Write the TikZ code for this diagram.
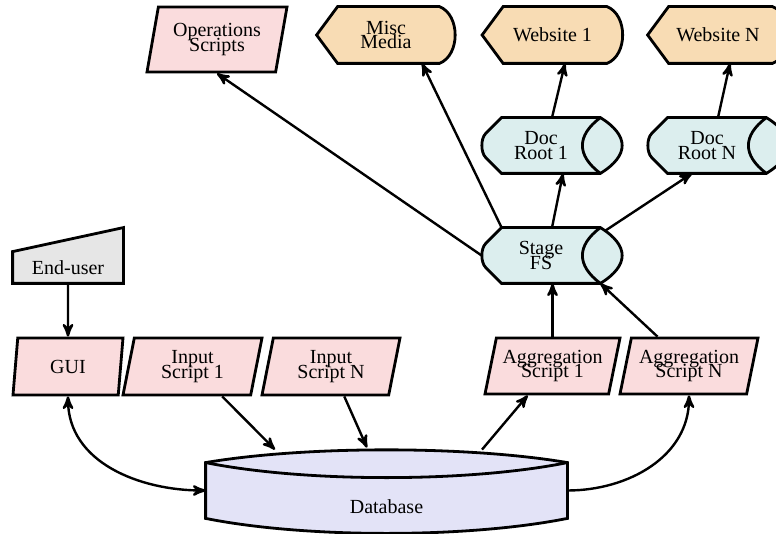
\documentclass[tikz,border=0pt]{standalone}
\usepackage{fontspec}
\setmainfont{Liberation Serif}
\usetikzlibrary{arrows}
\usetikzlibrary{calc}
\usetikzlibrary{shapes.geometric}
\usetikzlibrary{backgrounds}
\definecolor{mpink}{RGB}{250, 220, 221}
\definecolor{morange}{RGB}{248, 220, 180}
\definecolor{mcyan}{RGB}{220, 238, 238}
\definecolor{mlav}{RGB}{227, 227, 247}
\definecolor{mgray}{RGB}{230, 230, 230}
\newcommand{\tightfont}{\fontsize{10}{7.3}\selectfont\setlength{\lineskiplimit}{-20pt}\setlength{\lineskip}{0pt}}
\tikzset{txt/.style = {font=\tightfont, align=center, inner sep=0}}
\tikzset{para/.style = {txt, trapezium, trapezium left angle=70.5, trapezium right angle=109.5,
                        trapezium stretches body, draw, line width=1.4pt, fill=mpink,
                        minimum width=69.5pt, minimum height=28.5pt}}
\tikzset{disp/.style = {txt, minimum width=70pt, minimum height=28pt}}
\tikzset{cyl/.style = {txt, minimum width=59pt, minimum height=27.5pt}}
\tikzset{outline/.style = {draw, line width=1.4pt}}
\tikzset{link/.style = {line width=1.2pt, -stealth'}}

\begin{document}
\begin{tikzpicture}[x=0.5pt, y=-0.5pt]
    \useasboundingbox (0, 0) rectangle (776, 534);

    % top row
    \node [para, minimum width=70pt, minimum height=32.5pt] (ops) at (217, 39.5) {Operations\\Scripts};
    \node [disp, minimum width=69pt] (misc) at (386, 35) {Misc\\Media};
    \node [disp] (web1) at (552.5, 35) {Website 1};
    \node [disp] (webN) at (718, 35) {Website N};

    \node [cyl] (doc1) at (541, 145.5) {Doc\\Root 1};
    \node [cyl] (docN) at (707, 145.5) {Doc\\Root N};
    \node [cyl] (stage) at (541, 255.5) {Stage\\FS};

    \node [txt, minimum width=55pt, minimum height=15.5pt] (user) at (68, 267.5) {End-user};

    % scripts
    \node [para, minimum width=55pt] (gui) at (68, 366.5) {GUI};
    \node [para] (in1) at (192.5, 366.5) {Input\\Script 1};
    \node [para, minimum width=69pt] (inN) at (331, 366.5) {Input\\Script N};
    \node [para, minimum width=67.5pt, minimum height=28pt] (agg1) at (552.5, 366) {Aggregation\\Script 1};
    \node [para, minimum width=69pt, minimum height=28pt] (aggN) at (689, 366) {Aggregation\\Script N};

    \node [txt, minimum width=180.5pt, minimum height=27.5pt, text height=22.5pt, text depth=0pt]
          (db) at (386.5, 490.5) {Database};

    \begin{scope}[on background layer]
      \foreach \n in {misc, web1, webN}
        \draw [outline, fill=morange] (\n.west) -- ([shift={(21,0)}]\n.north west)
              -- ([shift={(-16,0)}]\n.north east)
              .. controls ([shift={(5,8)}]\n.north east) and ([shift={(5,-8)}]\n.south east)
              .. ([shift={(-16,0)}]\n.south east) -- ([shift={(21,0)}]\n.south west) -- cycle;

      \foreach \n in {doc1, docN, stage} {
        \draw [outline, fill=mcyan] ([shift={(20,0)}]\n.north west) -- ([shift={(4,16)}]\n.north west)
              .. controls ([shift={(-1,21)}]\n.north west) and ([shift={(-1,-21)}]\n.south west)
              .. ([shift={(4,-16)}]\n.south west) -- ([shift={(20,0)}]\n.south west) -- (\n.south east)
              .. controls ([shift={(29,-18)}]\n.south east) and ([shift={(29,18)}]\n.north east)
              .. (\n.north east) -- cycle;
        \draw [outline] (\n.north east)
              .. controls ([shift={(-24,18)}]\n.north east) and ([shift={(-24,-18)}]\n.south east)
              .. (\n.south east);
      }

      \draw [outline, fill=mgray] (user.south west) -- (user.north west)
            -- ([shift={(0,-24)}]user.north east) -- (user.south east) -- cycle;

      \draw [outline, fill=mlav] (db.north west)
            .. controls ([shift={(100,-17)}]db.north west) and ([shift={(-100,-17)}]db.north east)
            .. (db.north east) -- (db.south east)
            .. controls ([shift={(-100,20)}]db.south east) and ([shift={(100,20)}]db.south west)
            .. (db.south west) -- cycle;
      \draw [outline] (db.north west)
            .. controls ([shift={(100,20)}]db.north west) and ([shift={(-100,20)}]db.north east)
            .. (db.north east);
    \end{scope}

    % connectors
    \draw [link] (user.south) -- (gui.north);
    \draw [link, stealth'-stealth'] (gui.south) .. controls +(0, 66) and +(-66, 0) .. (db.west);
    \draw [link] (in1) -- ([shift={(-111.5,-13)}]db.north);
    \draw [link] (inN) -- ([shift={(-19.5,-15)}]db.north);
    \draw [link] ([shift={(95.5,-13)}]db.north) -- (agg1);
    \draw [link] (db.east) .. controls +(61, 0) and +(0, 61) .. (aggN.south);

    \draw [link] (agg1.north) -- (agg1.north |- stage.south);
    \draw [link] (aggN) -- (stage.south east);

    \draw [link] (stage.west) -- (ops.south);
    \draw [link] ([shift={(20,0)}]stage.north west) -- ([shift={(36,0)}]misc.south);
    \draw [link] ([shift={(11,0)}]stage.north) -- ([shift={(22,0)}]doc1.south);
    \draw [link] ([shift={(5,3)}]stage.north east) -- ([shift={(-15,0)}]docN.south);
    \draw [link] ([shift={(11,0)}]doc1.north) -- ([shift={(12.5,0)}]web1.south);
    \draw [link] ([shift={(11,0)}]docN.north) -- ([shift={(12,0)}]webN.south);
  \end{tikzpicture}
\end{document}
